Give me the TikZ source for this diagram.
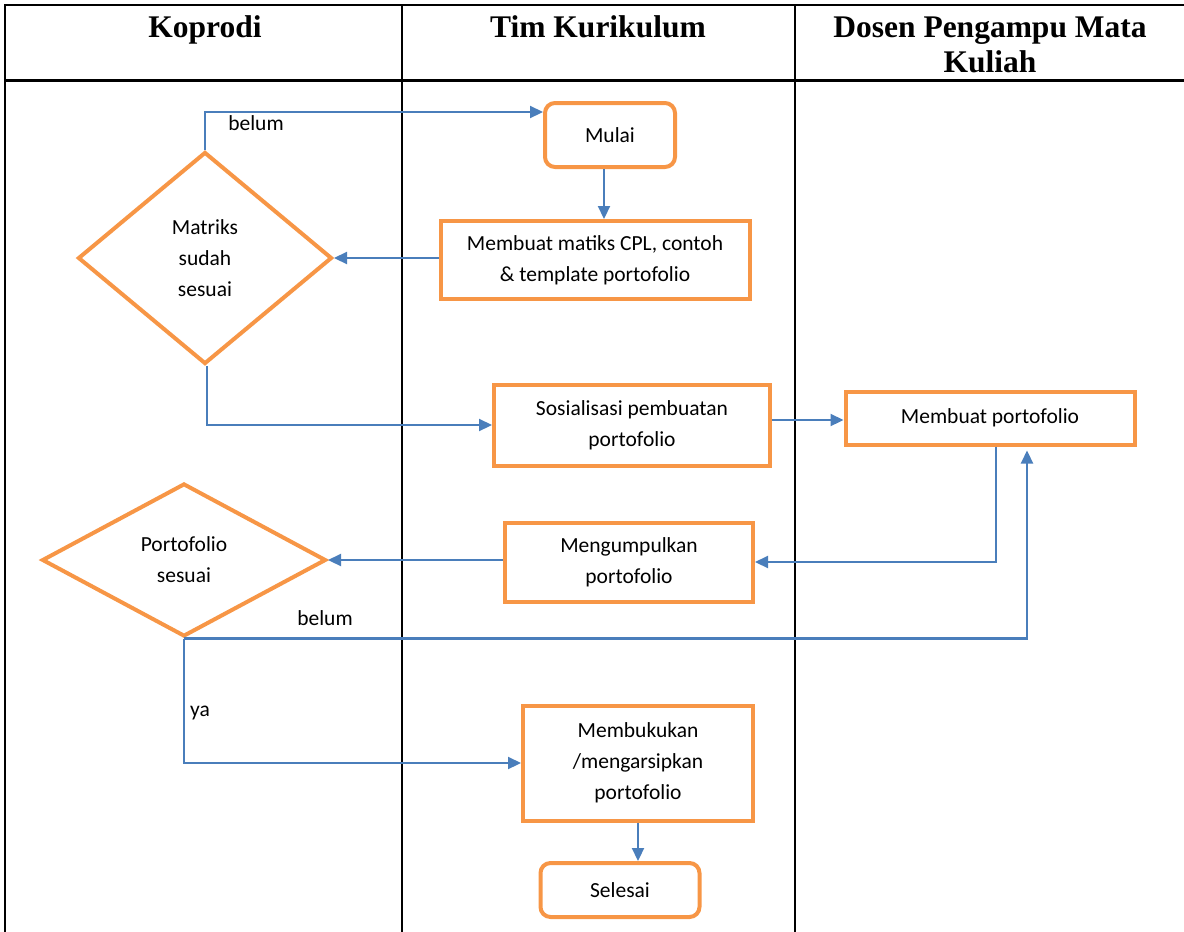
\documentclass[tikz,border=0pt]{standalone}
\usepackage{fontspec}
\setmainfont{Carlito}
\newfontfamily\headfont{Liberation Serif}
\usetikzlibrary{arrows.meta,shapes.geometric}

\definecolor{boxorange}{HTML}{F79646}
\definecolor{flowblue}{HTML}{4A7EBB}

\begin{document}
\begin{tikzpicture}[x=1pt,y=-1pt,
  every node/.style={font=\fontsize{21.5}{31}\selectfont,align=center},
  proc/.style={draw=boxorange,line width=4pt,inner sep=2pt},
  term/.style={proc,rounded corners=10pt},
  decide/.style={diamond,draw=boxorange,line width=4pt,inner sep=0pt},
  flow/.style={draw=flowblue,line width=2.2pt,-{Triangle[length=13pt,width=12pt]}},
  lane/.style={line width=1.8pt},
  head/.style={font=\headfont\bfseries\fontsize{31.5}{35}\selectfont}]
\useasboundingbox (0,0) rectangle (1184,932);
% swimlane table
\draw[lane] (5,932) -- (5,5) -- (1184,5);
\draw[line width=3pt] (5,80) -- (1184,80);
\draw[lane] (402,5) -- (402,932);
\draw[lane] (795,5) -- (795,932);
\node[head,anchor=base] (hkoprodi) at (205,37) {Koprodi};
\node[head,anchor=base] (htim) at (598,37) {Tim Kurikulum};
\node[head] (hdosen) at (990,45) {Dosen Pengampu Mata\\Kuliah};
% steps
\node[term,minimum width=130,minimum height=64] (mulai) at (610,135) {Mulai};
\node[proc,minimum width=309,minimum height=78] (matiks) at (595,260) {Membuat matiks CPL, contoh\\\& template portofolio};
\node[decide,minimum width=254,minimum height=212] (cek1) at (205,258) {Matriks\\sudah\\sesuai};
\node[proc,minimum width=276,minimum height=81] (sosial) at (632,425) {Sosialisasi pembuatan\\portofolio};
\node[proc,minimum width=289,minimum height=53] (buat) at (990,418) {Membuat portofolio};
\node[proc,minimum width=248,minimum height=79] (kumpul) at (629,562) {Mengumpulkan\\portofolio};
\node[decide,minimum width=284,minimum height=153] (cek2) at (184,560) {Portofolio\\sesuai};
\node[proc,minimum width=230,minimum height=115] (arsip) at (638,763) {Membukukan\\/mengarsipkan\\portofolio};
\node[term,minimum width=159,minimum height=54] (selesai) at (620,890) {Selesai};
% connectors
\draw[flow] (cek1.north) |- ([yshift=23pt]mulai.west);
\node (lbelum1) at (256,123) {belum};
\draw[flow] ([xshift=-6pt]mulai.south) -- ([xshift=-6pt]mulai.south |- matiks.north);
\draw[flow] ([yshift=2pt]matiks.west) -- (cek1.east);
\draw[flow] ([xshift=2pt]cek1.south) |- (sosial.west);
\draw[flow] ([yshift=5pt]sosial.east) -- ([yshift=5pt]sosial.east -| buat.west);
\draw[flow] ([xshift=6pt]buat.south) |- (kumpul.east);
\draw[flow] ([yshift=2pt]kumpul.west) -- (cek2.east);
\draw[flow] (cek2.south) -| ([xshift=37pt,yshift=-4pt]buat.south);
\node (lbelum2) at (325,618) {belum};
\draw[flow] (cek2.south) |- (arsip.west);
\node (lya) at (200,713) {ya};
\draw[flow] (arsip.south) -- (arsip.south |- selesai.north);
\end{tikzpicture}
\end{document}
